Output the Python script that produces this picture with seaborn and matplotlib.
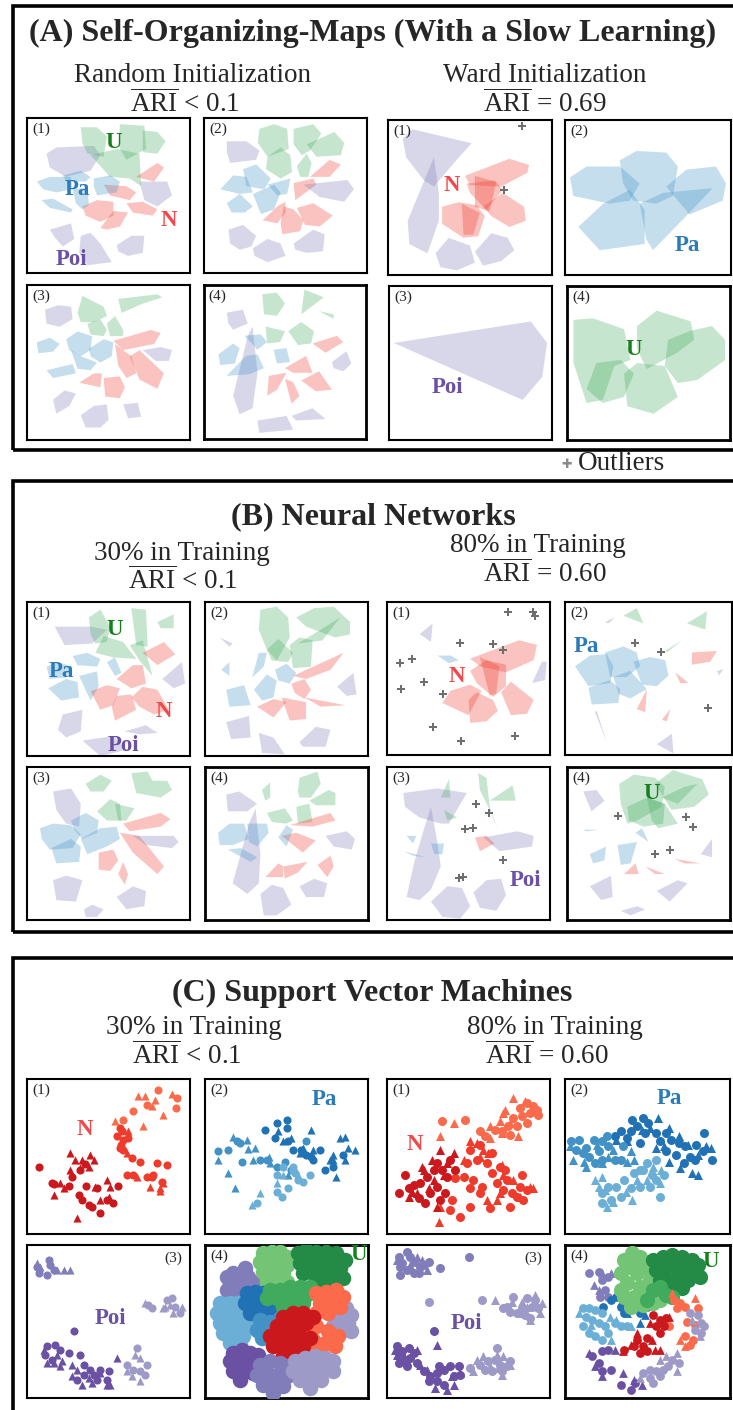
import matplotlib
matplotlib.use("Agg")
import matplotlib.pyplot as plt
import matplotlib.patches as mpatches
import numpy as np
import seaborn as sns

sns.set_theme(style="white")
plt.rcParams["font.family"] = ["Liberation Serif", "DejaVu Serif"]
plt.rcParams["mathtext.fontset"] = "custom"
plt.rcParams["mathtext.rm"] = "Liberation Serif"
plt.rcParams["mathtext.it"] = "Liberation Serif:italic"
plt.rcParams["mathtext.bf"] = "Liberation Serif:bold"

W, H = 733, 1410

# ---------------------------------------------------------------- colours
HULL = {"N": "#ef3b2c", "Pa": "#4292c6", "Poi": "#807dba", "U": "#41ab5d"}
LABEL = {"N": "#f0484b", "Pa": "#2b7bba", "Poi": "#6a51a3", "U": "#16801c"}
SHADE = {
    "N1": "#cb181d", "N2": "#ef3b2c", "N3": "#fb6a4a",
    "Pa1": "#2171b5", "Pa2": "#4292c6", "Pa3": "#6baed6",
    "Poi1": "#6a51a3", "Poi2": "#807dba", "Poi3": "#9e9ac8",
    "U1": "#238b45", "U2": "#41ab5d", "U3": "#74c476",
}

# ------------------------------------------------ cluster hulls (0-100 map units, y downwards)
SOM_RAND_1 = [
    ("Poi", [12,23, 18,19, 41,18, 45,24, 39,34, 24,38, 14,32]),
    ("U", [33,6, 43,6, 49,12, 47,25, 37,23, 34,16]),
    ("U", [57,4, 72,5, 73,20, 61,27, 56,18]),
    ("U", [71,8, 80,9, 85,15, 80,23, 71,22]),
    ("U", [39,24, 55,20, 69,23, 70,44, 63,39, 51,38]),
    ("Poi", [69,41, 86,41, 89,50, 80,57, 72,53]),
    ("N", [67,38, 80,29, 84,32, 78,41]),
    ("N", [47,43, 61,44, 67,48, 63,53, 51,50]),
    ("N", [34,57, 43,53, 53,54, 53,63, 45,67, 36,63]),
    ("N", [61,55, 71,54, 80,59, 77,63, 65,61]),
    ("N", [45,71, 53,60, 62,61, 57,70, 49,72]),
    ("Pa", [6,41, 14,38, 27,38, 28,46, 18,48, 10,46]),
    ("Pa", [22,37, 33,34, 39,38, 36,41, 24,41]),
    ("Pa", [41,39, 51,37, 57,41, 55,48, 43,50, 41,44]),
    ("Pa", [9,53, 16,52, 28,59, 27,61, 14,58]),
    ("Pa", [28,46, 37,45, 38,56, 34,59, 30,55]),
    ("Poi", [14,72, 27,68, 29,78, 22,83, 17,77]),
    ("Poi", [33,76, 39,74, 45,81, 52,93, 37,95, 32,87]),
    ("Poi", [55,82, 64,76, 72,76, 71,87, 62,89, 56,86]),
]
SOM_RAND_2 = [
    ("Poi", [14,15, 26,15, 34,21, 32,27, 16,29, 14,22]),
    ("U", [34,7, 43,4, 51,7, 52,20, 39,25, 33,16]),
    ("U", [39,25, 47,19, 53,24, 54,35, 47,39, 38,33]),
    ("U", [55,7, 67,4, 72,10, 65,21, 60,24, 55,17]),
    ("U", [63,17, 80,9, 86,16, 84,24, 69,25]),
    ("U", [57,31, 63,23, 66,29, 64,38, 59,38]),
    ("Pa", [10,46, 18,37, 26,38, 30,48, 22,49]),
    ("Pa", [24,33, 32,30, 41,39, 37,46, 26,44]),
    ("Pa", [14,55, 22,49, 30,57, 25,61, 17,61]),
    ("Pa", [30,49, 43,43, 47,48, 43,59, 35,62]),
    ("Pa", [39,43, 53,39, 51,49, 45,50]),
    ("N", [55,42, 67,39, 69,43, 56,53]),
    ("N", [65,38, 77,27, 84,30, 77,38]),
    ("N", [36,66, 45,57, 50,54, 50,61, 45,68]),
    ("N", [47,68, 49,57, 55,59, 61,66, 59,73, 48,75]),
    ("N", [57,58, 67,55, 79,63, 71,70, 62,69]),
    ("Poi", [61,43, 88,40, 92,46, 86,54, 71,51]),
    ("Poi", [15,72, 24,69, 32,76, 29,83, 22,85, 16,81]),
    ("Poi", [30,84, 39,78, 47,81, 50,89, 39,93, 31,89]),
    ("Poi", [55,81, 67,72, 74,75, 73,86, 63,87, 56,85]),
]
SOM_RAND_3 = [
    ("Poi", [11,16, 19,13, 27,14, 28,22, 20,27, 12,25]),
    ("U", [31,18, 34,7, 47,14, 49,20, 41,24, 33,24]),
    ("U", [56,9, 80,6, 83,8, 71,12, 58,18]),
    ("U", [37,25, 45,22, 49,29, 47,33, 39,32]),
    ("U", [49,25, 54,20, 59,29, 59,33, 51,33]),
    ("Pa", [6,37, 14,34, 20,38, 16,43, 7,44]),
    ("Pa", [24,35, 31,30, 40,33, 39,42, 33,46, 26,42]),
    ("Pa", [27,42, 33,46, 43,50, 39,55, 31,54]),
    ("Pa", [38,41, 47,35, 53,37, 52,46, 45,50, 39,46]),
    ("Pa", [12,55, 28,51, 30,57, 16,60]),
    ("N", [53,36, 76,29, 82,31, 78,38, 59,42]),
    ("N", [54,38, 64,46, 67,57, 61,60, 56,52]),
    ("N", [63,46, 69,42, 84,57, 80,67, 69,61]),
    ("N", [32,63, 41,57, 46,57, 45,66]),
    ("N", [47,60, 57,59, 60,66, 57,73, 48,72]),
    ("Poi", [71,42, 82,40, 89,42, 87,49, 79,49]),
    ("Poi", [16,74, 23,68, 30,70, 26,78, 18,83]),
    ("Poi", [33,84, 41,78, 49,77, 50,87, 45,92, 36,92]),
    ("Poi", [59,77, 68,76, 70,85, 62,86]),
]
SOM_RAND_4 = [
    ("Poi", [14,18, 24,16, 27,25, 18,29, 15,25]),
    ("Poi", [18,72, 27,33, 30,27, 33,57, 30,80, 22,84]),
    ("U", [36,6, 45,5, 50,12, 45,20, 37,19]),
    ("U", [60,19, 62,3, 74,8]),
    ("U", [71,17, 80,19, 80,22]),
    ("U", [38,27, 50,30, 47,37, 39,38]),
    ("U", [52,30, 60,24, 68,30, 66,38, 58,39]),
    ("Pa", [9,45, 18,38, 22,41, 19,51, 10,52]),
    ("Pa", [25,33, 35,32, 39,37, 33,42]),
    ("Pa", [14,59, 26,46, 33,45, 37,54, 28,58]),
    ("Pa", [43,42, 51,41, 53,50, 45,51]),
    ("N", [67,38, 82,33, 86,37, 75,44]),
    ("N", [50,54, 63,46, 67,57, 55,57]),
    ("N", [40,59, 51,57, 45,68, 39,72]),
    ("N", [50,61, 55,63, 59,72, 54,77]),
    ("N", [60,62, 71,56, 79,68, 69,69]),
    ("Poi", [79,50, 88,43, 91,51, 86,56, 80,54]),
    ("Poi", [33,88, 51,85, 55,94, 34,96]),
    ("Poi", [54,85, 67,80, 75,87, 57,88]),
]
SOM_WARD_1 = [
    ("Poi", [9,12, 15,6, 51,15, 40,28, 28,43, 22,39, 11,24]),
    ("Poi", [28,24, 31,47, 31,65, 24,86, 13,80, 12,65, 19,47]),
    ("N", [47,36, 74,25, 86,29, 85,34, 69,43, 50,42]),
    ("N", [53,36, 66,40, 62,59, 53,56]),
    ("N", [48,41, 65,39, 70,45, 60,58, 50,47]),
    ("N", [33,56, 43,53, 54,55, 59,62, 55,75, 46,76, 33,67]),
    ("N", [58,56, 70,47, 83,56, 84,65, 74,69, 63,62]),
    ("N", [45,54, 56,60, 52,74, 46,74]),
    ("Poi", [29,86, 37,76, 50,81, 53,92, 42,97, 32,95]),
    ("Poi", [53,85, 63,73, 73,76, 77,84, 69,91, 58,94]),
]
SOM_WARD_2 = [
    ("Pa", [3,37, 13,30, 33,30, 45,41, 39,52, 27,54, 5,49]),
    ("Pa", [33,26, 43,20, 61,21, 68,30, 65,49, 55,54, 41,52, 35,41]),
    ("Pa", [61,43, 73,32, 91,30, 97,41, 95,52, 75,61]),
    ("Pa", [8,69, 23,54, 39,45, 48,58, 48,80, 21,84]),
    ("Pa", [45,54, 59,47, 89,44, 73,62, 53,84, 49,77]),
]
SOM_WARD_3 = [
    ("Poi", [3,37, 87,23, 97,37, 94,59, 82,74]),
]
SOM_WARD_4 = [
    ("U", [4,22, 16,21, 35,28, 39,48, 29,52, 22,74, 12,76, 4,50]),
    ("U", [43,26, 55,16, 76,23, 78,35, 68,43, 49,54, 43,41]),
    ("U", [62,35, 76,29, 89,26, 97,35, 97,48, 80,61, 68,63, 60,52]),
    ("U", [12,67, 18,50, 33,48, 41,57, 35,72, 22,76]),
    ("U", [35,57, 43,50, 60,52, 68,72, 53,83, 37,78]),
]
NN_LOW_1 = [
    ("Poi", [17,16, 39,16, 49,18, 40,27, 23,28]),
    ("U", [38,10, 45,5, 51,16, 49,26, 42,27, 39,21]),
    ("U", [42,33, 47,22, 59,26, 67,37, 53,36]),
    ("U", [64,4, 73,5, 74,29, 67,28]),
    ("U", [80,13, 90,8, 90,17, 82,17]),
    ("U", [63,28, 71,25, 77,48, 69,38]),
    ("Pa", [28,35, 37,33, 45,37, 43,42, 31,41]),
    ("Pa", [12,42, 19,39, 28,42, 24,49, 14,50]),
    ("Pa", [13,56, 24,50, 31,52, 32,62, 21,64]),
    ("Pa", [32,48, 43,45, 44,55, 39,64]),
    ("Pa", [49,39, 54,36, 58,46, 54,48]),
    ("N", [71,33, 84,26, 91,34, 80,41]),
    ("N", [55,50, 65,41, 71,41, 73,53, 64,56]),
    ("N", [39,58, 49,54, 57,56, 53,67, 45,70]),
    ("N", [52,68, 55,61, 64,60, 67,70, 54,77]),
    ("N", [64,62, 71,55, 80,57, 87,70, 78,73, 69,68]),
    ("Poi", [83,50, 95,39, 97,53, 90,56]),
    ("Poi", [19,83, 22,73, 34,70, 33,84, 24,88]),
    ("Poi", [60,84, 73,80, 80,85, 69,86]),
    ("Poi", [34,90, 53,87, 61,96, 45,100]),
]
NN_LOW_2 = [
    ("U", [34,5, 44,3, 51,10, 52,23, 44,38, 38,31, 33,18]),
    ("U", [56,10, 67,4, 79,3, 89,13, 89,21, 80,23, 62,16]),
    ("U", [52,28, 58,23, 66,25, 65,42, 54,43]),
    ("U", [38,31, 45,24, 54,33, 51,39, 41,38]),
    ("U", [57,27, 71,18, 83,10, 72,25]),
    ("Poi", [9,23, 17,27, 15,29]),
    ("Poi", [81,55, 91,46, 93,60, 87,61]),
    ("Pa", [10,44, 15,39, 15,48]),
    ("Pa", [29,49, 33,33, 38,33, 36,42]),
    ("Pa", [13,57, 24,54, 28,67, 15,68]),
    ("Pa", [30,57, 38,47, 44,51, 42,62, 35,64]),
    ("Pa", [43,44, 50,40, 56,46, 52,53, 45,51]),
    ("N", [54,48, 85,33, 77,44, 62,50]),
    ("N", [53,53, 61,50, 65,57, 61,63, 55,59]),
    ("N", [32,68, 42,63, 50,65, 42,75]),
    ("N", [47,62, 62,65, 62,76, 52,77]),
    ("N", [61,62, 86,67, 71,68]),
    ("Poi", [13,78, 27,74, 28,88, 16,89]),
    ("Poi", [33,85, 42,88, 49,99, 35,98]),
    ("Poi", [58,91, 68,81, 77,83, 74,94, 60,94]),
]
NN_LOW_3 = [
    ("U", [36,11, 45,5, 52,9, 47,16, 39,16]),
    ("U", [64,4, 74,3, 77,9, 86,9, 89,15, 82,20, 67,17]),
    ("U", [43,29, 51,21, 57,24, 58,35, 49,35]),
    ("U", [54,24, 66,27, 61,35, 56,35]),
    ("Poi", [16,16, 27,14, 33,24, 32,39, 24,37, 18,28]),
    ("Pa", [8,40, 16,37, 27,38, 33,44, 28,53, 14,54, 9,47]),
    ("Pa", [15,53, 27,47, 33,52, 32,62, 18,63]),
    ("Pa", [27,35, 36,30, 44,35, 43,43, 34,47, 29,41]),
    ("Pa", [33,47, 45,40, 55,39, 57,47, 49,52, 37,57]),
    ("N", [59,37, 82,30, 88,34, 82,39, 63,42]),
    ("N", [57,43, 69,45, 84,65, 80,70, 65,56]),
    ("N", [44,56, 53,54, 56,61, 51,68, 44,67]),
    ("N", [56,70, 59,62, 62,70, 60,77]),
    ("Poi", [65,45, 90,45, 93,49, 89,53, 73,51]),
    ("Poi", [16,74, 24,71, 34,74, 30,88, 18,87]),
    ("Poi", [55,85, 65,78, 73,81, 72,91, 61,93]),
    ("Poi", [35,93, 40,90, 47,93, 43,98, 36,98]),
]
NN_LOW_4 = [
    ("Poi", [13,18, 21,16, 32,24, 26,29, 14,29]),
    ("Poi", [17,76, 27,37, 31,27, 34,57, 33,76, 26,83]),
    ("U", [35,15, 40,10, 40,20, 37,22]),
    ("U", [57,16, 58,7, 69,3, 71,11, 65,20, 58,20]),
    ("U", [64,22, 76,15, 80,17, 80,25, 68,25]),
    ("U", [38,30, 49,27, 54,35, 50,37, 41,36]),
    ("U", [56,26, 64,24, 66,36, 57,37]),
    ("N", [52,38, 77,30, 80,35, 66,39]),
    ("N", [47,45, 56,43, 68,48, 60,56]),
    ("N", [37,72, 45,63, 48,65, 48,72]),
    ("N", [48,65, 63,62, 57,69, 49,73]),
    ("N", [69,64, 77,58, 79,65, 75,72]),
    ("Pa", [8,43, 15,37, 24,37, 27,47, 17,51, 9,51]),
    ("Pa", [14,54, 22,53, 32,59, 28,62]),
    ("Pa", [26,37, 38,37, 39,43, 32,52, 27,49]),
    ("Pa", [45,46, 50,38, 54,41, 50,52]),
    ("Poi", [74,45, 87,42, 92,47, 90,54, 79,52]),
    ("Poi", [34,83, 41,77, 48,79, 53,90, 44,97, 36,97]),
    ("Poi", [58,78, 67,73, 75,76, 73,85, 62,85]),
]
NN_HIGH_1 = [
    ("Poi", [20,21, 28,14, 27,26]),
    ("Poi", [89,53, 95,39, 98,39, 97,51]),
    ("Pa", [31,35, 39,35, 44,38, 38,40]),
    ("N", [51,37, 71,29, 81,25, 92,28, 90,38, 73,46, 57,42]),
    ("N", [51,45, 61,38, 73,41, 73,55, 65,62, 55,53]),
    ("N", [34,66, 39,58, 51,54, 58,58, 50,74]),
    ("N", [50,64, 55,59, 65,64, 68,71, 61,78, 51,79]),
    ("N", [57,36, 69,42, 67,60, 63,61]),
    ("N", [70,59, 76,52, 90,64, 86,73, 76,74]),
]
NN_HIGH_2 = [
    ("U", [35,9, 43,4, 47,14]),
    ("U", [73,14, 85,6, 84,18]),
    ("U", [60,32, 70,25, 61,33]),
    ("Poi", [24,13, 30,10, 26,14]),
    ("Poi", [55,93, 64,86, 65,99]),
    ("Poi", [91,45, 95,44, 92,48]),
    ("Poi", [18,72, 19,71, 25,92]),
    ("Pa", [6,42, 15,35, 25,34, 29,42, 27,53, 14,55]),
    ("Pa", [24,33, 35,29, 43,33, 45,42, 37,49, 27,49]),
    ("Pa", [29,49, 39,45, 49,57, 39,63, 32,60]),
    ("Pa", [41,39, 51,36, 60,38, 62,48, 55,55, 46,54]),
    ("Pa", [14,56, 27,51, 33,57, 32,66, 16,67]),
    ("N", [76,33, 91,32, 87,39, 76,41]),
    ("N", [66,46, 69,53, 74,53]),
    ("N", [43,70, 49,57, 48,72]),
    ("N", [58,77, 63,70, 61,78]),
]
NN_HIGH_3 = [
    ("Poi", [10,17, 31,14, 49,17, 44,26, 38,37, 33,37, 20,33, 11,26]),
    ("Poi", [12,85, 17,61, 22,43, 27,26, 31,50, 33,65, 27,80, 20,87]),
    ("Poi", [27,88, 37,78, 46,79, 51,91, 45,99, 34,98]),
    ("Poi", [53,82, 61,74, 70,73, 73,84, 67,94, 57,92]),
    ("Poi", [59,46, 80,42, 90,45, 89,52, 69,55]),
    ("U", [33,20, 38,8, 39,20]),
    ("U", [56,4, 61,7, 63,26, 68,41, 63,28, 57,15]),
    ("U", [63,22, 77,12, 79,22]),
    ("U", [35,28, 43,33, 37,35]),
    ("Pa", [12,45, 18,45, 16,50]),
    ("Pa", [10,55, 24,59, 16,58]),
    ("Pa", [27,50, 35,50, 34,57, 29,57]),
    ("N", [54,46, 61,45, 66,50, 57,55]),
]
NN_HIGH_4 = [
    ("U", [32,11, 41,5, 54,7, 60,13, 58,26, 43,35, 37,37, 33,24]),
    ("U", [54,11, 65,2, 83,8, 87,18, 78,26, 64,28]),
    ("U", [37,26, 49,20, 60,24, 59,37, 47,39, 38,35]),
    ("U", [49,20, 60,24, 68,37, 56,40, 52,35]),
    ("U", [58,20, 72,13, 80,11, 68,24]),
    ("Poi", [10,16, 18,15, 23,22, 15,29]),
    ("Poi", [14,78, 27,71, 28,85, 21,87]),
    ("Poi", [55,81, 68,74, 74,76, 63,88]),
    ("Poi", [82,57, 89,47, 89,59]),
    ("Poi", [33,94, 43,91, 48,93, 39,97]),
    ("Pa", [10,41, 20,41, 12,42]),
    ("Pa", [14,57, 24,52, 23,61, 16,63]),
    ("Pa", [31,51, 43,49, 39,63, 33,64]),
    ("Pa", [42,43, 46,40, 50,49]),
    ("N", [35,70, 42,63, 44,70]),
    ("N", [48,65, 60,70, 54,70]),
    ("N", [66,60, 82,63, 72,63]),
]

# outliers (same map units)
WARD_1_OUT = [82,4, 71,45]
NN_HIGH_1_OUT = [74.5,6.5, 89.8,6.5, 90.8,9.3, 44.5,26.5, 64.9,27.6, 71,31.5, 7.8,39.8,
                 15.3,37, 22.9,52.4, 8.6,56.9, 34.3,60.4, 28,82, 45.5,90.7, 78.6,87.4]
NN_HIGH_2_OUT = [42,26.5, 57.6,32.6, 85.4,69]
NN_HIGH_3_OUT = [54.5,24.3, 62.7,30, 47.6,40.7, 53,39.6, 71.4,60.9, 43.9,72.4, 46.5,71.7]
NN_HIGH_4_OUT = [31,32, 73,33, 77,39, 54,57, 63,54]

# ------------------------------------------------ SVM embeddings (embedding units, y downwards)
SVM_LOW_1 = [
    ("N3", "o", [475,92, 530,115, 528,145, 400,155, 370,180, 440,135]),
    ("N3", "^", [415,108, 435,110, 465,120, 515,102, 490,165, 430,198, 345,185, 455,138]),
    ("N2", "o", [360,205, 365,215, 352,230, 370,240, 360,265, 368,270, 385,235, 395,295, 380,345,
                 400,345, 420,305, 470,310, 460,345, 455,350, 485,365, 500,315, 440,350, 362,255]),
    ("N2", "^", [385,215, 380,280, 410,350, 450,380, 480,385, 490,370, 480,392]),
    ("N1", "o", [115,320, 155,370, 160,372, 205,378, 215,350, 240,330, 255,312, 258,378, 235,405,
                 245,420, 265,435, 275,440, 300,460, 340,430, 320,420, 355,378, 290,385]),
    ("N1", "^", [210,280, 225,300, 245,300, 270,285, 280,300, 265,320, 210,330, 240,325, 160,405,
                 190,385, 285,380, 330,380, 300,420, 325,410, 230,475, 320,360, 180,370]),
]
SVM_LOW_2 = [
    ("Pa1", "o", [795,210, 830,190, 860,180, 860,205, 825,235, 865,245, 905,270, 920,285, 935,290,
                  960,270, 975,330, 1000,320, 1030,285, 940,300, 880,270]),
    ("Pa1", "^", [835,215, 850,245, 875,235, 935,210, 910,265, 900,280, 940,270, 1000,285, 1000,300,
                  1020,235, 1035,232, 1045,265, 1065,270, 1035,300, 1010,350, 990,300]),
    ("Pa2", "o", [655,275, 710,245, 720,250, 685,270, 725,305, 780,300, 800,300, 830,320, 855,305,
                  875,330, 920,245]),
    ("Pa2", "^", [655,300, 685,340, 700,232, 740,240, 760,300, 765,265, 808,290, 810,310, 865,345,
                  745,268, 705,385]),
    ("Pa3", "o", [830,345, 850,320, 880,330, 885,340, 895,360, 910,365, 930,345, 865,385, 830,395,
                  845,410, 770,430, 880,320]),
    ("Pa3", "^", [755,435, 780,400, 850,345, 830,370, 895,345]),
]
SVM_LOW_3 = [
    ("Poi2", "o", [110,620, 115,640, 145,600, 150,615, 160,630, 140,645]),
    ("Poi2", "^", [110,610, 120,620, 170,630, 190,630, 210,630, 150,605]),
    ("Poi3", "o", [445,735, 455,745, 500,720, 515,715, 525,740, 540,760]),
    ("Poi3", "^", [435,730, 495,740, 510,735, 545,740, 520,760, 490,745]),
    ("Poi1", "o", [220,815, 140,860, 165,855, 180,870, 135,885, 205,880, 240,885, 155,900, 250,915,
                   270,930, 280,945, 290,960, 320,960, 230,960, 250,945, 300,930, 325,935]),
    ("Poi1", "^", [130,870, 140,910, 170,885, 185,905, 215,950, 245,975, 230,930, 275,970, 300,940,
                   320,975, 330,975, 265,955, 215,915, 350,895, 160,910, 180,920]),
    ("Poi3", "o", [410,865, 380,915, 400,930, 440,915, 420,935, 435,945]),
    ("Poi3", "^", [405,885, 420,895, 380,935, 420,965, 395,950]),
]
SVM_LOW_4 = [
    ("Poi2", "o", [680,650, 700,640, 720,645, 745,650, 760,665, 690,670, 715,670, 740,680, 765,690,
                   700,700, 725,700, 750,710, 680,690, 770,710, 735,625]),
    ("U3", "o", [790,580, 815,575, 840,575, 860,590, 780,605, 805,605, 835,605, 860,615, 790,635,
                 820,635, 850,640, 800,665, 830,665, 860,665]),
    ("U1", "o", [895,580, 920,570, 950,575, 980,575, 1010,580, 1035,600, 900,610, 930,605, 960,605,
                 990,610, 1020,625, 910,640, 940,640, 970,640, 1000,650, 1030,655, 950,670, 985,675]),
    ("Poi3", "o", [1010,750, 1040,745, 1055,765, 1020,775, 1045,790, 1030,810, 1055,815, 1000,800]),
    ("Pa3", "o", [660,730, 690,730, 715,730, 650,760, 680,760, 710,760, 740,770, 660,790, 690,790,
                  720,795, 750,800, 670,820, 700,825, 730,830, 690,850, 720,855]),
    ("Pa1", "o", [740,700, 765,695, 790,700, 815,705, 735,730, 760,725, 790,730, 820,735, 750,760,
                  785,755, 815,760]),
    ("U2", "o", [810,690, 840,690, 870,680, 900,680, 930,680, 800,715, 830,715, 860,710, 890,705,
                 920,705, 945,700, 850,740, 880,740, 910,730]),
    ("Pa2", "o", [780,780, 810,785, 840,775, 865,770, 770,810, 800,810, 830,800, 785,835]),
    ("N3", "o", [950,700, 980,695, 1010,690, 1030,710, 960,730, 990,725, 1020,740, 950,760, 985,760,
                 920,810, 950,800, 985,815, 1015,830, 940,840, 975,850, 1005,860, 930,870, 965,880]),
    ("N1", "o", [850,770, 880,760, 910,760, 940,770, 830,800, 860,800, 890,795, 920,790, 810,830,
                 840,830, 870,830, 900,830, 930,835, 820,860, 850,860, 880,865, 910,860, 850,890, 885,890]),
    ("Poi1", "o", [700,880, 725,870, 750,880, 775,885, 690,905, 720,905, 750,910, 700,935, 730,935,
                   760,940, 720,960]),
    ("Poi2", "o", [780,915, 810,905, 840,910, 865,920, 770,945, 800,940, 830,945, 860,950, 790,975,
                   820,975, 850,980, 820,1000]),
    ("Poi3", "o", [885,905, 915,895, 945,890, 975,895, 1000,905, 880,935, 910,930, 940,925, 970,925,
                   1000,935, 900,960, 935,960, 965,960, 930,985]),
]
SVM_HIGH_1 = [
    ("N3", "o", [470,130, 490,140, 500,150, 505,165, 480,160, 450,145, 455,170, 430,175, 415,200,
                 395,215, 375,210, 345,230, 330,215, 420,225, 215,185, 285,180, 440,200, 470,190]),
    ("N3", "^", [430,115, 465,125, 400,160, 390,185, 420,190, 395,220, 360,200, 250,190, 210,230,
                 405,150, 360,235, 445,230]),
    ("N2", "o", [330,255, 300,270, 320,300, 350,310, 365,340, 390,320, 405,330, 410,360, 380,370,
                 400,390, 425,400, 450,380, 455,345, 470,390, 440,410, 420,440, 360,445, 330,400,
                 300,385, 310,360, 280,350, 255,355, 245,420, 270,470, 240,450, 300,440, 290,310,
                 365,280, 335,380, 460,420]),
    ("N2", "^", [300,245, 320,250, 340,270, 355,280, 330,290, 280,300, 395,315, 400,345, 430,360,
                 490,385, 450,410, 480,380, 380,420, 210,440, 205,485, 390,400, 350,420]),
    ("N1", "o", [85,400, 105,345, 130,375, 150,370, 170,350, 190,330, 200,310, 215,330, 230,350,
                 200,380, 180,400, 145,415, 115,385, 225,400, 255,330, 240,300, 165,430, 210,420]),
    ("N1", "^", [115,410, 140,400, 155,320, 185,300, 210,270, 190,360, 175,385, 230,310, 250,280,
                 160,330, 125,395, 200,440, 220,345]),
]
SVM_HIGH_2 = [
    ("Pa1", "o", [795,180, 830,175, 845,190, 810,200, 790,215, 760,215, 835,220, 870,220, 900,220,
                  915,240, 940,250, 960,260, 995,255, 1020,220, 1015,275, 990,300, 1045,300, 975,290,
                  955,310, 930,285, 900,275, 880,245, 820,250, 780,235, 740,230]),
    ("Pa1", "^", [875,175, 910,205, 850,205, 780,245, 745,240, 870,265, 895,260, 940,230, 970,255,
                  1000,285, 1025,260, 1040,265, 980,340, 1000,345, 945,325, 910,305, 825,210]),
    ("Pa2", "o", [605,245, 630,240, 650,265, 675,240, 700,245, 720,260, 690,275, 660,290, 640,280,
                  620,270, 700,300, 740,300, 680,310, 715,230, 765,260, 760,300]),
    ("Pa2", "^", [600,260, 610,300, 645,305, 700,310, 720,290, 735,270, 790,275, 800,300, 685,255,
                  650,320, 780,305]),
    ("Pa3", "o", [720,380, 700,400, 745,380, 770,360, 800,340, 830,330, 855,345, 870,360, 850,380,
                  820,380, 790,385, 760,410, 730,420, 700,430, 880,410, 820,330, 840,310, 870,300, 895,345]),
    ("Pa3", "^", [680,360, 690,380, 710,390, 715,440, 735,425, 775,395, 795,420, 810,360, 840,360,
                  860,320, 885,330, 880,370, 700,350]),
]
SVM_HIGH_3 = [
    ("Poi2", "o", [85,590, 110,575, 120,590, 95,610, 130,605, 150,620, 110,630, 90,645, 130,640,
                   160,615, 175,605, 210,625, 295,590, 90,620, 145,640]),
    ("Poi2", "^", [80,600, 140,590, 170,630, 120,615, 155,600]),
    ("Poi3", "o", [175,725, 335,720, 430,710, 410,740, 420,755, 455,745, 465,765, 480,775, 495,720,
                   505,745, 470,715, 440,760, 400,745, 485,740]),
    ("Poi3", "^", [375,720, 425,725, 455,725, 495,705, 515,730, 470,740, 450,760, 480,780, 510,760]),
    ("Poi1", "o", [190,815, 80,860, 95,875, 115,865, 130,880, 100,900, 85,910, 110,920, 140,910,
                   120,895, 160,935, 180,950, 200,940, 220,930, 240,920, 175,965, 200,965, 220,975,
                   250,950, 270,945, 205,920, 85,880, 265,920]),
    ("Poi1", "^", [80,885, 100,890, 140,870, 200,855, 75,870, 110,905, 150,915, 195,985, 230,990,
                   250,975, 170,930, 245,950, 270,940]),
    ("Poi3", "o", [380,865, 330,915, 355,905, 375,900, 390,915, 410,920, 365,935, 345,930, 395,935,
                   420,905, 300,925]),
    ("Poi3", "^", [320,900, 340,890, 380,885, 400,890, 420,915, 360,920, 385,925, 310,935, 395,945]),
]
SVM_HIGH_4 = [
    ("Poi2", "o", [660,640, 690,635, 700,660, 720,650, 710,690, 695,710, 720,710]),
    ("Poi2", "^", [675,675, 690,690, 700,640, 730,640]),
    ("Pa1", "o", [730,720, 745,710, 760,740, 790,735, 810,745, 840,740, 770,760, 820,760, 705,740]),
    ("Pa1", "^", [780,760, 820,790, 800,720, 850,720, 835,765, 760,725]),
    ("Pa3", "o", [640,745, 660,745, 680,750, 700,760, 650,770, 670,780, 690,790, 710,800, 640,800,
                  660,820, 680,830, 700,840, 740,790, 760,800, 780,800, 720,820]),
    ("Pa3", "^", [630,760, 665,795, 725,770, 745,780, 790,800, 730,840]),
    ("U3", "o", [770,600, 795,580, 820,590, 790,620, 760,640, 810,640, 840,620, 780,670, 820,680,
                 850,660, 770,710, 800,710, 840,700, 870,700, 790,740, 830,735, 860,730, 880,720,
                 900,700, 760,690, 825,610, 855,640]),
    ("U1", "o", [860,600, 890,590, 920,585, 950,590, 980,600, 1000,615, 870,630, 900,620, 930,620,
                 960,625, 990,640, 880,660, 910,660, 940,650, 970,660, 1005,650, 920,680, 950,685]),
    ("U2", "o", [860,690, 880,680, 900,705, 920,710, 840,720]),
    ("N3", "o", [925,720, 945,730, 960,740, 935,745, 1000,745, 965,785, 990,795, 960,830, 975,855,
                 985,840, 910,800]),
    ("N3", "^", [990,715, 920,700, 945,840, 960,860]),
    ("Poi3", "o", [1000,765, 1010,790, 1020,800, 990,810, 1010,820, 975,760]),
    ("Poi3", "^", [980,780, 1005,830]),
    ("N1", "o", [860,765, 880,780, 900,775, 870,800, 895,800, 880,820, 840,835, 810,840, 800,860,
                 820,880, 840,875, 830,860, 770,870]),
    ("N1", "^", [850,790, 910,770, 855,840, 810,820, 790,855, 865,870, 880,870, 765,875]),
    ("Poi1", "o", [670,890, 700,875, 690,910, 700,935, 730,930, 760,975, 790,990, 805,970, 720,870]),
    ("Poi1", "^", [660,880, 680,920, 700,950, 740,870, 765,940, 800,960, 825,975]),
    ("Poi3", "o", [830,940, 850,930, 870,935, 890,930, 905,920, 920,900, 940,910, 880,950, 850,955,
                   860,970]),
    ("Poi3", "^", [820,955, 880,900, 900,890, 935,935, 935,880]),
]

# ------------------------------------------------ helpers
fig = plt.figure(figsize=(W / 100, H / 100), dpi=100)

TITLE_PT = 23
SUB_PT = 19.5
NAME_PT = 16.5


def frame(x0, y0, x1, y1, lw=1.5):
    ax = fig.add_axes([x0 / W, 1 - y1 / H, (x1 - x0) / W, (y1 - y0) / H])
    ax.set_xticks([])
    ax.set_yticks([])
    for sp in ax.spines.values():
        sp.set_color("black")
        sp.set_linewidth(lw)
    ax.set_facecolor("white")
    return ax


def ftext(x, y, s, size, weight="normal", **kw):
    fig.text(x / W, 1 - y / H, s, ha="center", va="center", fontsize=size,
             fontweight=weight, **kw)


def tag(ax, s, right=False):
    if right:
        ax.text(0.95, 0.96, s, transform=ax.transAxes, ha="right", va="top", fontsize=11)
    else:
        ax.text(0.03, 0.97, s, transform=ax.transAxes, ha="left", va="top", fontsize=11)


def name(ax, key, x, y, size=NAME_PT):
    ax.text(x, y, key, ha="center", va="center", color=LABEL[key], fontsize=size,
            fontweight="bold", zorder=5)


def hull_panel(ax, hulls, outliers=None):
    for key, flat in hulls:
        pts = np.array(flat, dtype=float).reshape(-1, 2)
        ax.fill(pts[:, 0], pts[:, 1], color=HULL[key], alpha=0.3, lw=0)
    if outliers:
        o = np.array(outliers, dtype=float).reshape(-1, 2)
        sns.scatterplot(x=o[:, 0], y=o[:, 1], marker="P", s=38, color="#6e6e6e",
                        linewidth=0, ax=ax, zorder=4)
    ax.set_xlim(0, 100)
    ax.set_ylim(100, 0)


def svm_panel(ax, groups, lim, size=34, big=None):
    big = big or {}
    for shade, mk, flat in groups:
        pts = np.array(flat, dtype=float).reshape(-1, 2)
        sns.scatterplot(x=pts[:, 0], y=pts[:, 1], marker=mk, s=big.get(shade, size),
                        color=SHADE[shade], linewidth=0, ax=ax, zorder=3)
    ax.set_xlim(lim[0], lim[1])
    ax.set_ylim(lim[3], lim[2])
    ax.set_xlabel("")
    ax.set_ylabel("")


# ------------------------------------------------ outer panels
for y0, y1 in [(6, 450), (481, 932), (958, 1425)]:
    fig.add_artist(mpatches.Rectangle((13 / W, 1 - y1 / H), (740 - 13) / W, (y1 - y0) / H,
                                      transform=fig.transFigure, fill=False, lw=2.6,
                                      edgecolor="black"))

ARI_LOW = r"$\overline{\mathrm{ARI}}$ < 0.1"

# ---- (A)
ftext(373, 33, "(A) Self-Organizing-Maps (With a Slow Learning)", TITLE_PT, "bold")
ftext(192, 75, "Random Initialization", SUB_PT)
ftext(185, 104, ARI_LOW, SUB_PT)
ftext(545, 75, "Ward Initialization", SUB_PT)
ftext(545, 104, r"$\overline{\mathrm{ARI}}$ = 0.69", SUB_PT)

a = frame(27, 118, 190, 273); hull_panel(a, SOM_RAND_1); tag(a, "(1)")
name(a, "U", 53, 16); name(a, "Pa", 31, 46); name(a, "N", 87, 66); name(a, "Poi", 27, 91)
a = frame(204, 118, 367, 273); hull_panel(a, SOM_RAND_2); tag(a, "(2)")
a = frame(27, 285, 190, 440); hull_panel(a, SOM_RAND_3); tag(a, "(3)")
a = frame(204, 285, 366, 439, 2.0); hull_panel(a, SOM_RAND_4); tag(a, "(4)")

a = frame(388, 120, 552, 275); hull_panel(a, SOM_WARD_1, WARD_1_OUT); tag(a, "(1)")
name(a, "N", 39, 42)
a = frame(565, 120, 731, 275); hull_panel(a, SOM_WARD_2); tag(a, "(2)")
name(a, "Pa", 74, 81)
a = frame(389, 286, 552, 440); hull_panel(a, SOM_WARD_3); tag(a, "(3)")
name(a, "Poi", 36, 66)
a = frame(567, 286, 730, 440, 2.0); hull_panel(a, SOM_WARD_4); tag(a, "(4)")
name(a, "U", 41, 41)

fig.text(567 / W, 1 - 464 / H, "\u271a", color="#8a8a8a", fontsize=9, ha="center",
         va="center", family=["DejaVu Sans"])
fig.text(578 / W, 1 - 464 / H, "Outliers", fontsize=SUB_PT, ha="left", va="center")

# ---- (B)
ftext(373, 517, "(B) Neural Networks", TITLE_PT, "bold")
ftext(182, 553, "30% in Training", SUB_PT)
ftext(183, 581, ARI_LOW, SUB_PT)
ftext(538, 546, "80% in Training", SUB_PT)
ftext(545, 574, r"$\overline{\mathrm{ARI}}$ = 0.60", SUB_PT)

a = frame(27, 602, 190, 756); hull_panel(a, NN_LOW_1); tag(a, "(1)")
name(a, "U", 54, 18); name(a, "Pa", 21, 45); name(a, "N", 84, 71); name(a, "Poi", 59, 93)
a = frame(205, 602, 368, 756); hull_panel(a, NN_LOW_2); tag(a, "(2)")
a = frame(27, 767, 190, 920); hull_panel(a, NN_LOW_3); tag(a, "(3)")
a = frame(205, 767, 368, 920, 2.0); hull_panel(a, NN_LOW_4); tag(a, "(4)")

a = frame(387, 602, 550, 755); hull_panel(a, NN_HIGH_1, NN_HIGH_1_OUT); tag(a, "(1)")
name(a, "N", 43, 49)
a = frame(565, 602, 732, 755); hull_panel(a, NN_HIGH_2, NN_HIGH_2_OUT); tag(a, "(2)")
name(a, "Pa", 13, 29)
a = frame(387, 767, 550, 920); hull_panel(a, NN_HIGH_3, NN_HIGH_3_OUT); tag(a, "(3)")
name(a, "Poi", 85, 74)
a = frame(567, 767, 730, 920, 2.0); hull_panel(a, NN_HIGH_4, NN_HIGH_4_OUT); tag(a, "(4)")
name(a, "U", 52, 17)

# ---- (C)
ftext(372, 993, "(C) Support Vector Machines", TITLE_PT, "bold")
ftext(194, 1028, "30% in Training", SUB_PT)
ftext(187, 1056, ARI_LOW, SUB_PT)
ftext(555, 1028, "80% in Training", SUB_PT)
ftext(547, 1056, r"$\overline{\mathrm{ARI}}$ = 0.60", SUB_PT)

a = frame(27, 1079, 190, 1234); svm_panel(a, SVM_LOW_1, (80, 570, 58, 522)); tag(a, "(1)")
name(a, "N", 255, 210)
a = frame(205, 1079, 368, 1234); svm_panel(a, SVM_LOW_2, (615, 1105, 58, 522)); tag(a, "(2)")
name(a, "Pa", 975, 120)
a = frame(27, 1245, 190, 1398); svm_panel(a, SVM_LOW_3, (80, 570, 555, 1015)); tag(a, "(3)", True)
name(a, "Poi", 330, 775)
a = frame(205, 1245, 368, 1398, 2.0); svm_panel(a, SVM_LOW_4, (615, 1105, 555, 1015), 125); tag(a, "(4)")
name(a, "U", 1078, 585)

a = frame(387, 1079, 550, 1234); svm_panel(a, SVM_HIGH_1, (50, 540, 58, 522), 42); tag(a, "(1)")
name(a, "N", 135, 255)
a = frame(565, 1079, 730, 1234); svm_panel(a, SVM_HIGH_2, (585, 1100, 58, 522), 42); tag(a, "(2)")
name(a, "Pa", 910, 115)
a = frame(387, 1245, 550, 1398); svm_panel(a, SVM_HIGH_3, (50, 540, 555, 1015), 42); tag(a, "(3)", True)
name(a, "Poi", 290, 790)
a = frame(565, 1245, 730, 1398, 2.0)
svm_panel(a, SVM_HIGH_4, (585, 1100, 555, 1015), 40, big={"U1": 120, "U2": 120, "U3": 120})
tag(a, "(4)")
name(a, "U", 1040, 605)

fig.savefig("out.png", dpi=100, facecolor="white")
